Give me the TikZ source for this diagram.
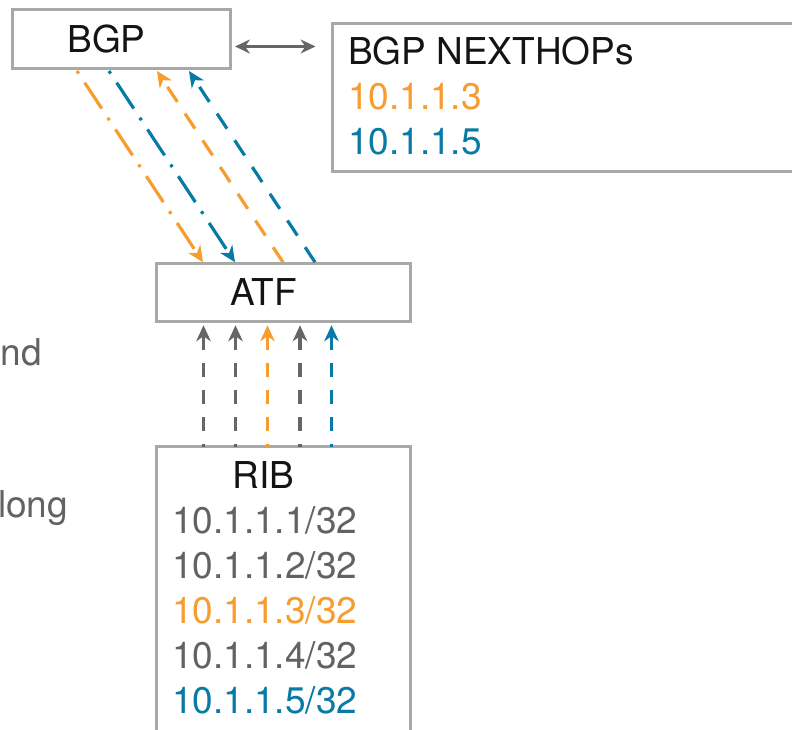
\documentclass[tikz,border=0pt]{standalone}
\usepackage{fontspec}
\setmainfont{TeX Gyre Heros}
\usetikzlibrary{arrows.meta,calc}
\definecolor{boxgray}{RGB}{168,168,168}
\definecolor{linegray}{RGB}{102,102,102}
\definecolor{txtgray}{RGB}{98,98,98}
\definecolor{nhorange}{RGB}{247,157,48}
\definecolor{nhblue}{RGB}{8,122,166}
\definecolor{txtblack}{RGB}{20,20,20}
\tikzset{
  box/.style={draw=boxgray, line width=3pt, inner sep=0pt, outer sep=0pt, fill=white},
  lbl/.style={inner sep=0pt, outer sep=0pt, font=\fontsize{37}{45}\selectfont},
  head/.style={Stealth[length=16pt,width=14.5pt,inset=5pt]},
  tip/.style={-{Stealth[length=16pt,width=14.5pt,inset=5pt]}},
  bitip/.style={{Stealth[length=15pt,width=14pt,inset=5pt]}-{Stealth[length=15pt,width=14pt,inset=5pt]}},
  link/.style={line width=3.2pt},
  dashdot/.style={dash pattern=on 3pt off 11pt on 31pt off 11pt},
  longdash/.style={dash pattern=on 18pt off 14pt},
  vdash/.style={dash pattern=on 14pt off 13pt, dash phase=11pt},
}
\begin{document}
\begin{tikzpicture}[x=1pt,y=-1pt]
\useasboundingbox (0,0) rectangle (792,730);
\clip (0,0) rectangle (792,730);

% boxes
\node[box, minimum width=218pt, minimum height=59pt]  (bgp) at (121,39.5) {};
\node[box, minimum width=488pt, minimum height=148pt] (nh)  at (576.5,97.5) {};
\node[box, minimum width=254pt, minimum height=58pt]  (atf) at (283.5,292.25) {};
\node[box, minimum width=254pt, minimum height=314pt] (rib) at (283.5,603.5) {};

% box texts
\node[lbl, anchor=base, text=txtblack] (bgpt) at (106.5,53) {BGP};
\node[lbl, anchor=base, text=txtblack] (atft) at (263.5,305) {ATF};
\node[lbl, anchor=base west, text=txtblack] (nht) at (348,65) {BGP NEXTHOPs};
\node[lbl, anchor=base west, text=nhorange] (nh3) at (348,110) {10.1.1.3};
\node[lbl, anchor=base west, text=nhblue]   (nh5) at (348,155) {10.1.1.5};
\node[lbl, anchor=base, text=txtblack] (ribt) at (263.5,488) {RIB};
\node[lbl, anchor=base west, text=txtgray]  (r1) at (172,533) {10.1.1.1/32};
\node[lbl, anchor=base west, text=txtgray]  (r2) at (172,578) {10.1.1.2/32};
\node[lbl, anchor=base west, text=nhorange] (r3) at (172,623) {10.1.1.3/32};
\node[lbl, anchor=base west, text=txtgray]  (r4) at (172,668) {10.1.1.4/32};
\node[lbl, anchor=base west, text=nhblue]   (r5) at (172,713) {10.1.1.5/32};

% text running in from the left edge
\node[lbl, anchor=base east, text=txtgray] (and)   at (42,365) {and};
\node[lbl, anchor=base east, text=txtgray] (along) at (68,517) {along};

% BGP <-> next hops
\draw[link, linegray, bitip] ($(bgp.east)+(5,7)$) -- ($(bgp.east -| nh.west)+(-17,7)$);

% BGP -> ATF (dash-dot) and ATF -> BGP (dashed)
\draw[link, nhorange, dashdot, tip] ($(bgp.south west)+(65,2)$) -- ($(atf.north west)+(46.5,-1)$);
\draw[link, nhblue, dashdot, tip]   ($(bgp.south west)+(97,2)$) -- ($(atf.north west)+(78.5,-1)$);
\draw[link, nhorange, longdash, tip] ($(atf.north west)+(126.5,-1)$) -- ($(bgp.south west)+(145,2)$);
\draw[link, nhblue, longdash, tip]   ($(atf.north west)+(158.5,-1)$) -- ($(bgp.south west)+(177,2)$);

% RIB -> ATF
\foreach \dx/\c in {47/linegray, 79/linegray, 111/nhorange, 143.5/linegray, 175/nhblue}
  \draw[link, \c, vdash, tip] ($(rib.north west)+(\dx,0)$) -- ($(atf.south west)+(\dx,4)$);
\end{tikzpicture}
\end{document}
